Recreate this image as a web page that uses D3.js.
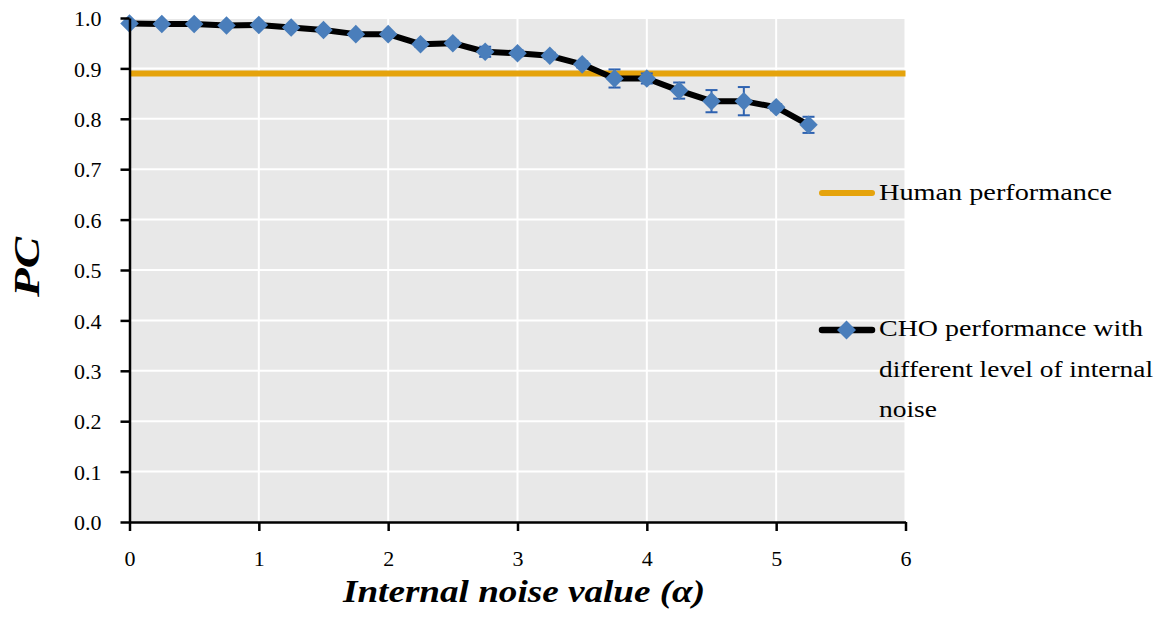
<!DOCTYPE html>
<html><head><meta charset="utf-8">
<script src="https://cdn.jsdelivr.net/npm/d3@7"></script>
<style>body{margin:0;background:#fff}svg{display:block}svg text{font-family:"Liberation Serif","DejaVu Serif",serif}</style>
</head><body><svg id="c" width="1161" height="617"></svg>
<script>
const noiseValues = [0,0.25,0.5,0.75,1,1.25,1.5,1.75,2,2.25,2.5,2.75,3,3.25,3.5,3.75,4,4.25,4.5,4.75,5,5.25];
const choPC = [0.989,0.988,0.988,0.985,0.986,0.981,0.976,0.968,0.968,0.948,0.950,0.933,0.930,0.925,0.908,0.880,0.880,0.856,0.835,0.835,0.823,0.788];
const choErr = [0.003,0.003,0.003,0.003,0.003,0.003,0.004,0.004,0.004,0.005,0.005,0.01,0.006,0.006,0.006,0.018,0.01,0.016,0.022,0.028,0.006,0.016];
const humanPC = 0.89;
const xTicks = [0,1,2,3,4,5,6];
const yTicks = [0,0.1,0.2,0.3,0.4,0.5,0.6,0.7,0.8,0.9,1.0];
const legendLabels = ["Human performance", ["CHO performance with","different level of internal","noise"]];

const SERIF = '"Liberation Serif","DejaVu Serif",serif';
const svg = d3.select("#c");
const L=129.5,R=905.5,T=18,B=522;
const x = d3.scaleLinear().domain([0,6]).range([L,R]);
const y = d3.scaleLinear().domain([0,1]).range([B,T]);

svg.append("rect").attr("x",L).attr("y",T).attr("width",R-L).attr("height",B-T).attr("fill","#e8e8e8");
svg.append("g").selectAll("line").data(yTicks.slice(1)).join("line")
  .attr("x1",L).attr("x2",R).attr("y1",d=>y(d)).attr("y2",d=>y(d)).attr("stroke","#fff").attr("stroke-width",2);
svg.append("g").selectAll("line").data(xTicks.slice(1)).join("line")
  .attr("x1",d=>x(d)).attr("x2",d=>x(d)).attr("y1",T).attr("y2",B).attr("stroke","#fff").attr("stroke-width",2);

// human line
svg.append("line").attr("x1",L).attr("x2",R).attr("y1",y(humanPC)).attr("y2",y(humanPC))
  .attr("stroke","#E5A30C").attr("stroke-width",6);

// CHO line
const data = noiseValues.map((v,i)=>({x:v,y:choPC[i],e:choErr[i]}));
svg.append("path").datum(data).attr("fill","none").attr("stroke","#000").attr("stroke-width",6)
  .attr("stroke-linejoin","round").attr("d",d3.line().x(d=>x(d.x)).y(d=>y(d.y)));

// error bars
const eb = svg.append("g").attr("stroke","#2e62b0").attr("stroke-width",2);
data.forEach(d=>{
  const cx=x(d.x);
  eb.append("line").attr("x1",cx).attr("x2",cx).attr("y1",y(d.y+d.e)).attr("y2",y(d.y-d.e));
  eb.append("line").attr("x1",cx-6).attr("x2",cx+6).attr("y1",y(d.y+d.e)).attr("y2",y(d.y+d.e));
  eb.append("line").attr("x1",cx-6).attr("x2",cx+6).attr("y1",y(d.y-d.e)).attr("y2",y(d.y-d.e));
});

const sq = d3.symbol().type(d3.symbolSquare).size(172);
svg.append("g").selectAll("path").data(data).join("path")
  .attr("d",sq).attr("transform",d=>`translate(${x(d.x)},${y(d.y)}) rotate(45)`)
  .attr("fill","#4A7EBB");

// axes
const xAxis = svg.append("g").attr("transform",`translate(0,${B})`)
  .call(d3.axisBottom(x).tickValues(xTicks).tickFormat(d3.format("d")).tickSize(9).tickSizeOuter(0).tickPadding(19));
const yAxis = svg.append("g").attr("transform",`translate(${L},0)`)
  .call(d3.axisLeft(y).tickValues(yTicks).tickFormat(d3.format(".1f")).tickSize(9).tickSizeOuter(0).tickPadding(19));
[xAxis,yAxis].forEach(a=>{
  a.attr("font-family",SERIF).attr("font-size",22);
  a.select(".domain").attr("stroke","#000").attr("stroke-width",2.5);
  a.selectAll(".tick line").attr("stroke","#000").attr("stroke-width",2.5);
  a.selectAll(".tick text").style("font-family",SERIF).style("font-size","22px").attr("fill","#000");
});
yAxis.selectAll(".tick text").attr("dy","0.35em");

svg.append("text").attr("x",524).attr("y",602).attr("text-anchor","middle")
  .style("font-size","32px").attr("font-weight","bold").attr("font-style","italic")
  .attr("textLength",362).attr("lengthAdjust","spacingAndGlyphs").text("Internal noise value (α)");
svg.append("text").attr("transform","translate(39,267) rotate(-90)").attr("text-anchor","middle")
  .style("font-size","36px").attr("font-weight","bold").attr("font-style","italic")
  .attr("textLength",60).attr("lengthAdjust","spacingAndGlyphs").text("PC");

// legend
svg.append("line").attr("x1",822).attr("x2",872).attr("y1",193).attr("y2",193)
  .attr("stroke","#E5A30C").attr("stroke-width",6).attr("stroke-linecap","round");
svg.append("text").attr("x",879).attr("y",200).style("font-size","24px")
  .attr("textLength",233).attr("lengthAdjust","spacingAndGlyphs").text(legendLabels[0]);
svg.append("line").attr("x1",822).attr("x2",872).attr("y1",330).attr("y2",330)
  .attr("stroke","#000").attr("stroke-width",6.5).attr("stroke-linecap","round");
svg.append("path").attr("d",d3.symbol().type(d3.symbolSquare).size(180)())
  .attr("transform","translate(846.5,330) rotate(45)").attr("fill","#4A7EBB");
const lens = [264,274,58];
legendLabels[1].forEach((t,i)=>{
  svg.append("text").attr("x",879).attr("y",336+i*40.5).style("font-size","24px")
    .attr("textLength",lens[i]).attr("lengthAdjust","spacingAndGlyphs").text(t);
});
</script></body></html>
